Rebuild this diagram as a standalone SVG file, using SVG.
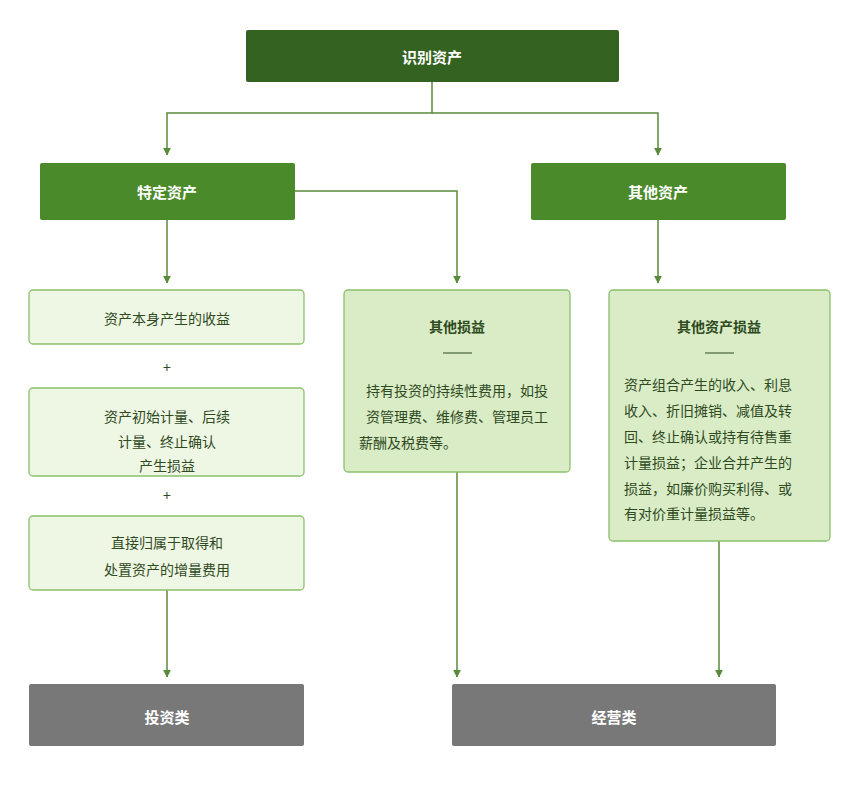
<svg xmlns="http://www.w3.org/2000/svg" width="865" height="787" viewBox="0 0 865 787">
<style>
text{font-family:"Noto Sans CJK SC","Liberation Sans",sans-serif;text-anchor:middle;dominant-baseline:central}
.w{fill:#fff;font-size:15px;font-weight:bold}
.d{fill:#2f4a1e;font-size:14px}
.b{fill:#2f4a1e;font-size:14px;font-weight:bold}
.lt{fill:#eef6e4;stroke:#8cc06c;stroke-width:1.3}
.md{fill:#d9ecc6;stroke:#8cc06c;stroke-width:1.3}
.c{fill:none;stroke:#5a8a3a;stroke-width:1.5}
</style>
<defs><marker id="a" viewBox="0 0 10 10" refX="9" refY="5" markerWidth="8" markerHeight="8" orient="auto" markerUnits="userSpaceOnUse"><path d="M0,0L10,5L0,10z" fill="#5a8a3a"/></marker></defs>
<rect width="865" height="787" fill="#fff"/>
<g id="connectors">
<path class="c" d="M432,82V113H167V155" marker-end="url(#a)"/>
<path class="c" d="M432,113H658V155" marker-end="url(#a)"/>
<path class="c" d="M167,220V283" marker-end="url(#a)"/>
<path class="c" d="M295,191H457V283" marker-end="url(#a)"/>
<path class="c" d="M658,220V283" marker-end="url(#a)"/>
<path class="c" d="M167,590V677" marker-end="url(#a)"/>
<path class="c" d="M457,472V677" marker-end="url(#a)"/>
<path class="c" d="M719,541V677" marker-end="url(#a)"/>
</g>
<g id="n1"><rect x="246" y="30" width="373" height="52" rx="2" fill="#346221"/><text class="w" x="432" y="56">识别资产</text></g>
<g id="n2"><rect x="40" y="163" width="255" height="57" rx="2" fill="#4a8a2a"/><text class="w" x="167" y="191">特定资产</text></g>
<g id="n3"><rect x="531" y="163" width="255" height="57" rx="2" fill="#4a8a2a"/><text class="w" x="658" y="191">其他资产</text></g>
<g id="n4"><rect class="lt" x="29" y="290" width="275" height="54" rx="4"/><text class="d" x="167" y="318">资产本身产生的收益</text></g>
<text class="d" x="167" y="367">+</text>
<g id="n5"><rect class="lt" x="29" y="388" width="275" height="88" rx="4"/><text class="d" x="167" y="416">资产初始计量、后续</text><text class="d" x="167" y="441">计量、终止确认</text><text class="d" x="167" y="465">产生损益</text></g>
<text class="d" x="167" y="495">+</text>
<g id="n6"><rect class="lt" x="29" y="516" width="275" height="74" rx="4"/><text class="d" x="167" y="542">直接归属于取得和</text><text class="d" x="167" y="569">处置资产的增量费用</text></g>
<g id="n7"><rect class="md" x="344" y="290" width="226" height="182" rx="4"/><text class="b" x="457" y="326">其他损益</text><line x1="443" y1="353" x2="472" y2="353" stroke="#2f4a1e" stroke-width="1"/>
<text class="d" x="457" y="390">持有投资的持续性费用，如投</text><text class="d" x="457" y="416">资管理费、维修费、管理员工</text><text class="d" x="359" y="442" style="text-anchor:start">薪酬及税费等。</text></g>
<g id="n8"><rect class="md" x="609" y="290" width="221" height="251" rx="4"/><text class="b" x="719" y="326">其他资产损益</text><line x1="705" y1="353" x2="734" y2="353" stroke="#2f4a1e" stroke-width="1"/>
<g style="text-anchor:start"><text class="d" x="624" y="384" style="text-anchor:start">资产组合产生的收入、利息</text><text class="d" x="624" y="410" style="text-anchor:start">收入、折旧摊销、减值及转</text><text class="d" x="624" y="436" style="text-anchor:start">回、终止确认或持有待售重</text><text class="d" x="624" y="462" style="text-anchor:start">计量损益；企业合并产生的</text><text class="d" x="624" y="488" style="text-anchor:start">损益，如廉价购买利得、或</text><text class="d" x="624" y="513" style="text-anchor:start">有对价重计量损益等。</text></g></g>
<g id="n9"><rect x="29" y="684" width="275" height="62" rx="2" fill="#787878"/><text class="w" x="167" y="716">投资类</text></g>
<g id="n10"><rect x="452" y="684" width="324" height="62" rx="2" fill="#787878"/><text class="w" x="614" y="716">经营类</text></g>
</svg>
